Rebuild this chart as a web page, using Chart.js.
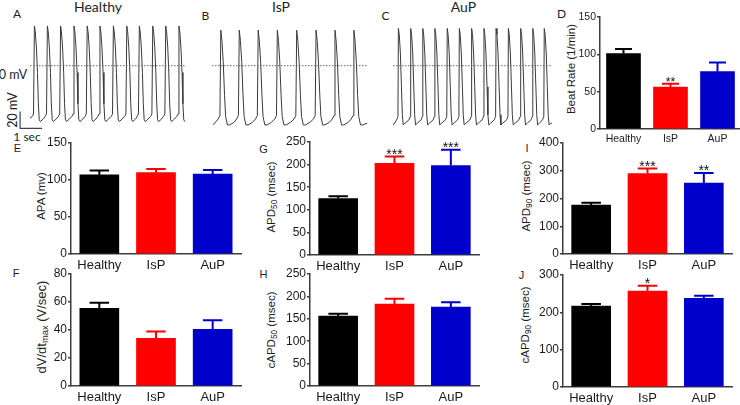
<!DOCTYPE html>
<html><head><meta charset="utf-8">
<script src="https://cdn.jsdelivr.net/npm/chart.js@4.4.1/dist/chart.umd.min.js"></script>
<style>
html,body{margin:0;padding:0;background:#fff}
body{position:relative;width:740px;height:405px;overflow:hidden;font-family:"Liberation Sans",Arial,sans-serif;color:#1e1e1e}
canvas{position:absolute}
.t{position:absolute;transform:translate(-50%,-50%);white-space:nowrap;line-height:1}
.r{transform:translate(-50%,-50%) rotate(-90deg)}
.cal{font-family:Lato,"Open Sans",sans-serif}
.yt{font-size:11.5px}
sub{font-size:72%;vertical-align:-0.25em;line-height:0}
</style></head><body>
<!-- panel letters -->
<div class="t cal" style="left:17px;top:14px;font-size:12px">A</div>
<div class="t cal" style="left:205.5px;top:16px;font-size:12px">B</div>
<div class="t cal" style="left:385.5px;top:16px;font-size:12px">C</div>
<div class="t cal" style="left:561.5px;top:13.5px;font-size:12px">D</div>
<div class="t" style="left:17.5px;top:148px;font-size:11px">E</div>
<div class="t" style="left:263.5px;top:148.5px;font-size:11px">G</div>
<div class="t" style="left:527px;top:148px;font-size:11px">I</div>
<div class="t" style="left:16px;top:273px;font-size:11px">F</div>
<div class="t" style="left:263.5px;top:274px;font-size:11px">H</div>
<div class="t" style="left:521.5px;top:275px;font-size:11px">J</div>
<!-- trace titles -->
<div class="t cal" style="left:98px;top:7px;font-size:14px">Healthy</div>
<div class="t cal" style="left:281px;top:7px;font-size:14px">IsP</div>
<div class="t cal" style="left:463.5px;top:7px;font-size:14px">AuP</div>
<div class="t cal" style="left:13px;top:75px;font-size:12.5px">0 mV</div>
<div class="t cal r" style="left:12.5px;top:110px;font-size:12.5px">20 mV</div>
<div class="t cal" style="left:27px;top:137px;font-size:12px">1 sec</div>
<!-- y axis titles -->
<div class="t r yt" style="left:571.5px;top:69px">Beat Rate (1/min)</div>
<div class="t r yt" style="left:42px;top:196px">APA (mv)</div>
<div class="t r" style="left:40.5px;top:326.5px;font-size:13px">dV/dt<sub>max</sub> (V/sec)</div>
<div class="t r yt" style="left:271.5px;top:197px">APD<sub>50</sub> (msec)</div>
<div class="t r yt" style="left:271.5px;top:330px">cAPD<sub>50</sub> (msec)</div>
<div class="t r yt" style="left:527px;top:196px">APD<sub>90</sub> (msec)</div>
<div class="t r yt" style="left:525.5px;top:325px">cAPD<sub>90</sub> (msec)</div>
<script>
// ---------- data ----------
const groups = ['Healthy', 'IsP', 'AuP'];
const groupColors = ['#000000', '#ff0000', '#0000cc'];

const beatRate = [101, 56, 77];
const beatRateSem = [6, 4.5, 12];
const beatRateSig = ['', '**', ''];

const apa = [107, 110, 108];
const apaSem = [6, 5, 5.5];

const dvdt = [55.5, 34, 40.5];
const dvdtSem = [4, 5, 6.5];

const apd50 = [125, 203, 198];
const apd50Sem = [5, 15, 35];
const apd50Sig = ['', '***', '***'];

const capd50 = [156, 183, 176];
const capd50Sem = [5, 12, 11];

const apd90 = [176, 290, 256];
const apd90Sem = [9, 18, 36];
const apd90Sig = ['', '***', '**'];

const capd90 = [217, 257, 237.5];
const capd90Sem = [5, 14.5, 7];
const capd90Sig = ['', '*', ''];

// action potential traces (time in s, voltage in mV)
const healthyBeats = [0.20, 0.79, 1.39, 2.00, 2.60, 3.18, 3.79, 4.40, 4.97, 5.58, 6.17, 6.77];
const ispBeats = [0.40, 1.24, 2.10, 2.97, 3.85, 4.73, 5.59, 6.45];
const aupBeats = [0.29, 0.85, 1.40, 1.95, 2.51, 3.06, 3.62, 4.18, 4.73, 5.29, 5.85, 6.40, 6.92];
const healthyAP = [[-0.10, -60], [-0.04, -57], [0, 47], [0.04, 40], [0.09, 22], [0.14, -8], [0.18, -45], [0.22, -64], [0.27, -66], [0.40, -63]];
const ispAP = [[-0.12, -63], [-0.04, -59], [0, 42], [0.05, 30], [0.11, 5], [0.17, -35], [0.22, -60], [0.30, -70], [0.40, -70], [0.60, -67]];
const aupAP = [[-0.08, -64], [-0.02, -60], [0, 44], [0.04, 37], [0.09, 15], [0.14, -25], [0.18, -58], [0.22, -70], [0.30, -68]];
const healthyEnds = [[0, -62], [7.05, -66]];
const ispEnds = [[0.05, -70], [7.05, -68]];
const aupEnds = [[0.06, -70], [7.27, -68]];
const healthyZeroSpan = [0, 7.09];
const ispZeroSpan = [0, 7.05];
const aupZeroSpan = [0.05, 7.27];
const zeroMv = 0;
const scaleBarMv = 20, scaleBarSec = 1;
const scaleBarOrigin = [-0.45, -74];

// ---------- helpers ----------
Chart.defaults.font.family = '"Liberation Sans", Arial, sans-serif';
Chart.defaults.color = '#1a1a1a';
const AX = '#3c3c3c';

function mkCanvas(left, top, w, h) {
  const c = document.createElement('canvas');
  c.width = Math.round(w); c.height = Math.round(h);
  c.style.left = left + 'px'; c.style.top = top + 'px';
  document.body.appendChild(c);
  return c;
}

function buildTrace(beats, tpl, ends) {
  const pts = [{x: ends[0][0], y: ends[0][1]}];
  beats.forEach(b => tpl.forEach(([dt, v]) => {
    const x = b + dt;
    if (x > ends[0][0] && x < ends[1][0]) pts.push({x, y: v});
  }));
  pts.push({x: ends[1][0], y: ends[1][1]});
  return pts;
}

const PX_PER_S = 22, Y_MIN = -76, Y_MAX = 54, TR_TOP = 20, TR_H = 110;

function traceChart(left, width, x0px, beats, tpl, ends, zeroSpan, withBar) {
  const c = mkCanvas(left, TR_TOP, width, TR_H);
  const xmin = (left - x0px) / PX_PER_S, xmax = (left + width - x0px) / PX_PER_S;
  const ds = [
    {data: [{x: zeroSpan[0], y: zeroMv}, {x: zeroSpan[1], y: zeroMv}], borderColor: '#666', borderWidth: 1, borderDash: [1.5, 1.5]},
    {data: buildTrace(beats, tpl, ends), borderColor: '#3a3a3a', borderWidth: 1}
  ];
  if (withBar) {
    const [bx, by] = scaleBarOrigin;
    ds.push({data: [{x: bx, y: by + scaleBarMv}, {x: bx, y: by}, {x: bx + scaleBarSec, y: by}], borderColor: '#444', borderWidth: 1.2});
  }
  new Chart(c, {
    type: 'scatter',
    data: {datasets: ds.map(d => Object.assign({showLine: true, pointRadius: 0, tension: 0, fill: false}, d))},
    options: {
      responsive: false, animation: false, events: [],
      layout: {padding: 0},
      plugins: {legend: {display: false}, tooltip: {enabled: false}},
      scales: {
        x: {type: 'linear', display: false, min: xmin, max: xmax},
        y: {type: 'linear', display: false, min: Y_MIN, max: Y_MAX}
      }
    }
  });
}

const errPlugin = {
  id: 'errbars',
  afterDatasetsDraw(chart, args, opts) {
    const meta = chart.getDatasetMeta(0);
    const ys = chart.scales.y;
    const ctx = chart.ctx;
    ctx.save();
    meta.data.forEach((bar, i) => {
      const v = opts.vals[i], s = opts.sems[i];
      const x = bar.x, yTop = ys.getPixelForValue(v + s), yV = ys.getPixelForValue(v);
      const half = bar.width / 4;
      ctx.strokeStyle = groupColors[i]; ctx.lineWidth = 2;
      ctx.beginPath();
      ctx.moveTo(x, yV); ctx.lineTo(x, yTop);
      ctx.moveTo(x - half, yTop); ctx.lineTo(x + half, yTop);
      ctx.stroke();
      if (opts.sig && opts.sig[i]) {
        ctx.fillStyle = '#111';
        ctx.font = opts.starFont;
        ctx.textAlign = 'center'; ctx.textBaseline = 'alphabetic';
        ctx.fillText(opts.sig[i], x, yTop + 2.5);
      }
    });
    ctx.restore();
  }
};

function barChart(L, T, B, R, vals, sems, sig, yMax, step, cfg) {
  const yW = 40, padTop = 10, padRight = 4, xH = 24;
  const c = mkCanvas(L - yW, T - padTop, yW + (R - L) + padRight, padTop + (B - T) + xH);
  new Chart(c, {
    type: 'bar',
    data: {labels: groups, datasets: [{data: vals, backgroundColor: groupColors, borderWidth: 0, barThickness: cfg.bt}]},
    plugins: [errPlugin],
    options: {
      responsive: false, animation: false, events: [],
      layout: {padding: {top: padTop, right: padRight, left: 0, bottom: 0}},
      plugins: {legend: {display: false}, tooltip: {enabled: false},
        errbars: {vals, sems, sig, starFont: cfg.starFont}},
      scales: {
        y: {min: 0, max: yMax,
          ticks: {stepSize: step, padding: 1, color: '#1a1a1a', font: {size: cfg.tfs}},
          grid: {drawOnChartArea: false, drawTicks: true, tickLength: 3, color: AX, lineWidth: 1.5},
          border: {display: true, color: AX, width: 1.5},
          afterFit: s => { s.width = yW; }},
        x: {ticks: {padding: 4, color: '#1a1a1a', font: {size: cfg.xfs}},
          grid: {display: true, drawOnChartArea: false, drawTicks: false},
          border: {display: true, color: AX, width: 1.5},
          afterFit: s => { s.height = xH; }}
      }
    }
  });
}

// ---------- traces ----------
traceChart(0, 186, 30, healthyBeats, healthyAP, healthyEnds, healthyZeroSpan, true);
traceChart(212, 156, 212, ispBeats, ispAP, ispEnds, ispZeroSpan, false);
traceChart(392, 162, 392, aupBeats, aupAP, aupEnds, aupZeroSpan, false);

// ---------- bar panels ----------
const big = {bt: 39, tfs: 12, xfs: 13, starFont: '14px "Liberation Sans", Arial'};
const small = {bt: 34, tfs: 10.5, xfs: 10.5, starFont: '12.5px "Liberation Sans", Arial'};
barChart(600, 17, 129, 741, beatRate, beatRateSem, beatRateSig, 150, 50, small);
barChart(71, 143, 254, 240.5, apa, apaSem, null, 150, 50, big);
barChart(71, 274.3, 386.7, 240.5, dvdt, dvdtSem, null, 80, 20, big);
barChart(309.5, 141.7, 254.3, 478.5, apd50, apd50Sem, apd50Sig, 250, 50, big);
barChart(309.5, 274.3, 386.7, 478.5, capd50, capd50Sem, null, 250, 50, big);
barChart(563, 142.7, 254, 732, apd90, apd90Sem, apd90Sig, 400, 100, big);
barChart(563, 275, 386.7, 732, capd90, capd90Sem, capd90Sig, 300, 100, big);
</script>
</body></html>
